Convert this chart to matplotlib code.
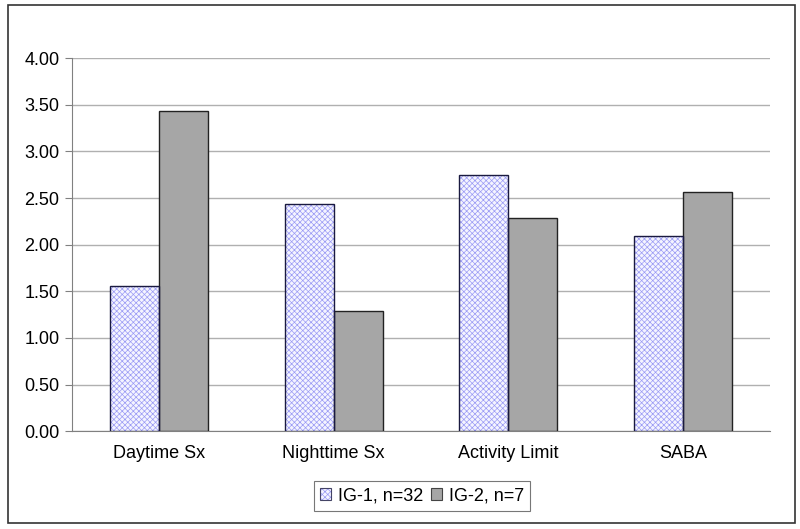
import matplotlib
matplotlib.use("agg")
import matplotlib.pyplot as plt
import numpy as np
from matplotlib.patches import Rectangle

plt.rcParams["font.family"] = ["Liberation Sans", "DejaVu Sans"]
plt.rcParams["hatch.linewidth"] = 0.5

categories = ["Daytime Sx", "Nighttime Sx", "Activity Limit", "SABA"]
ig1_values = [1.56, 2.44, 2.75, 2.09]
ig2_values = [3.43, 1.29, 2.29, 2.57]
series_labels = ["IG-1, n=32", "IG-2, n=7"]
ytick_values = [0.0, 0.5, 1.0, 1.5, 2.0, 2.5, 3.0, 3.5, 4.0]

fig = plt.figure(figsize=(8, 5.29), dpi=100)
ax = fig.add_axes([0.09, 0.185, 0.8725, 0.705])

x = np.arange(len(categories))
w = 0.28
# hatch layer (edge colour drives hatch colour), then outline on top
ax.bar(x - w / 2, ig1_values, w, facecolor="#f4f4ff", edgecolor="#9a9af5",
       hatch="xxxxxx", linewidth=0, zorder=3)
ax.bar(x - w / 2, ig1_values, w, fill=False, edgecolor="#1a1a40",
       linewidth=1.0, zorder=4)
ax.bar(x + w / 2, ig2_values, w, color="#a6a6a6", edgecolor="#222222",
       linewidth=1.0, zorder=3)

ax.set_xlim(-0.5, len(categories) - 0.5)
ax.set_ylim(0, 4)
ax.set_yticks(ytick_values)
ax.set_yticklabels([f"{v:.2f}" for v in ytick_values])
ax.set_xticks(x)
ax.set_xticklabels(categories)
ax.tick_params(axis="x", length=0, pad=10, labelsize=13)
ax.tick_params(axis="y", length=5, color="#808080", labelsize=13, pad=4)
ax.grid(axis="y", color="#b0b0b0", linewidth=1.0, zorder=0)
for s in ["top", "right"]:
    ax.spines[s].set_visible(False)
ax.spines["left"].set_color("#808080")
ax.spines["bottom"].set_color("#808080")

# legend handles: hatched fill + separate outline
h1 = Rectangle((0, 0), 1, 1, facecolor="#f4f4ff", edgecolor="#9a9af5", hatch="xxxxxx", linewidth=0)
h1o = Rectangle((0, 0), 1, 1, fill=False, edgecolor="#444466", linewidth=0.8)
h2 = Rectangle((0, 0), 1, 1, facecolor="#a6a6a6", edgecolor="#444444", linewidth=0.8)
leg = fig.legend([(h1, h1o), h2], series_labels, loc="center", bbox_to_anchor=(0.5275, 0.0624),
                 ncol=2, frameon=True, fancybox=False, edgecolor="#555555",
                 fontsize=13, handlelength=0.6, handleheight=0.6,
                 handletextpad=0.4, columnspacing=0.4, borderpad=0.35)
leg.get_frame().set_linewidth(0.8)

fig.patches.append(Rectangle((0.01, 0.012), 0.984, 0.978, transform=fig.transFigure,
                             fill=False, edgecolor="#333333", linewidth=1.2))

fig.savefig("out.png", dpi=100)
plt.close(fig)
